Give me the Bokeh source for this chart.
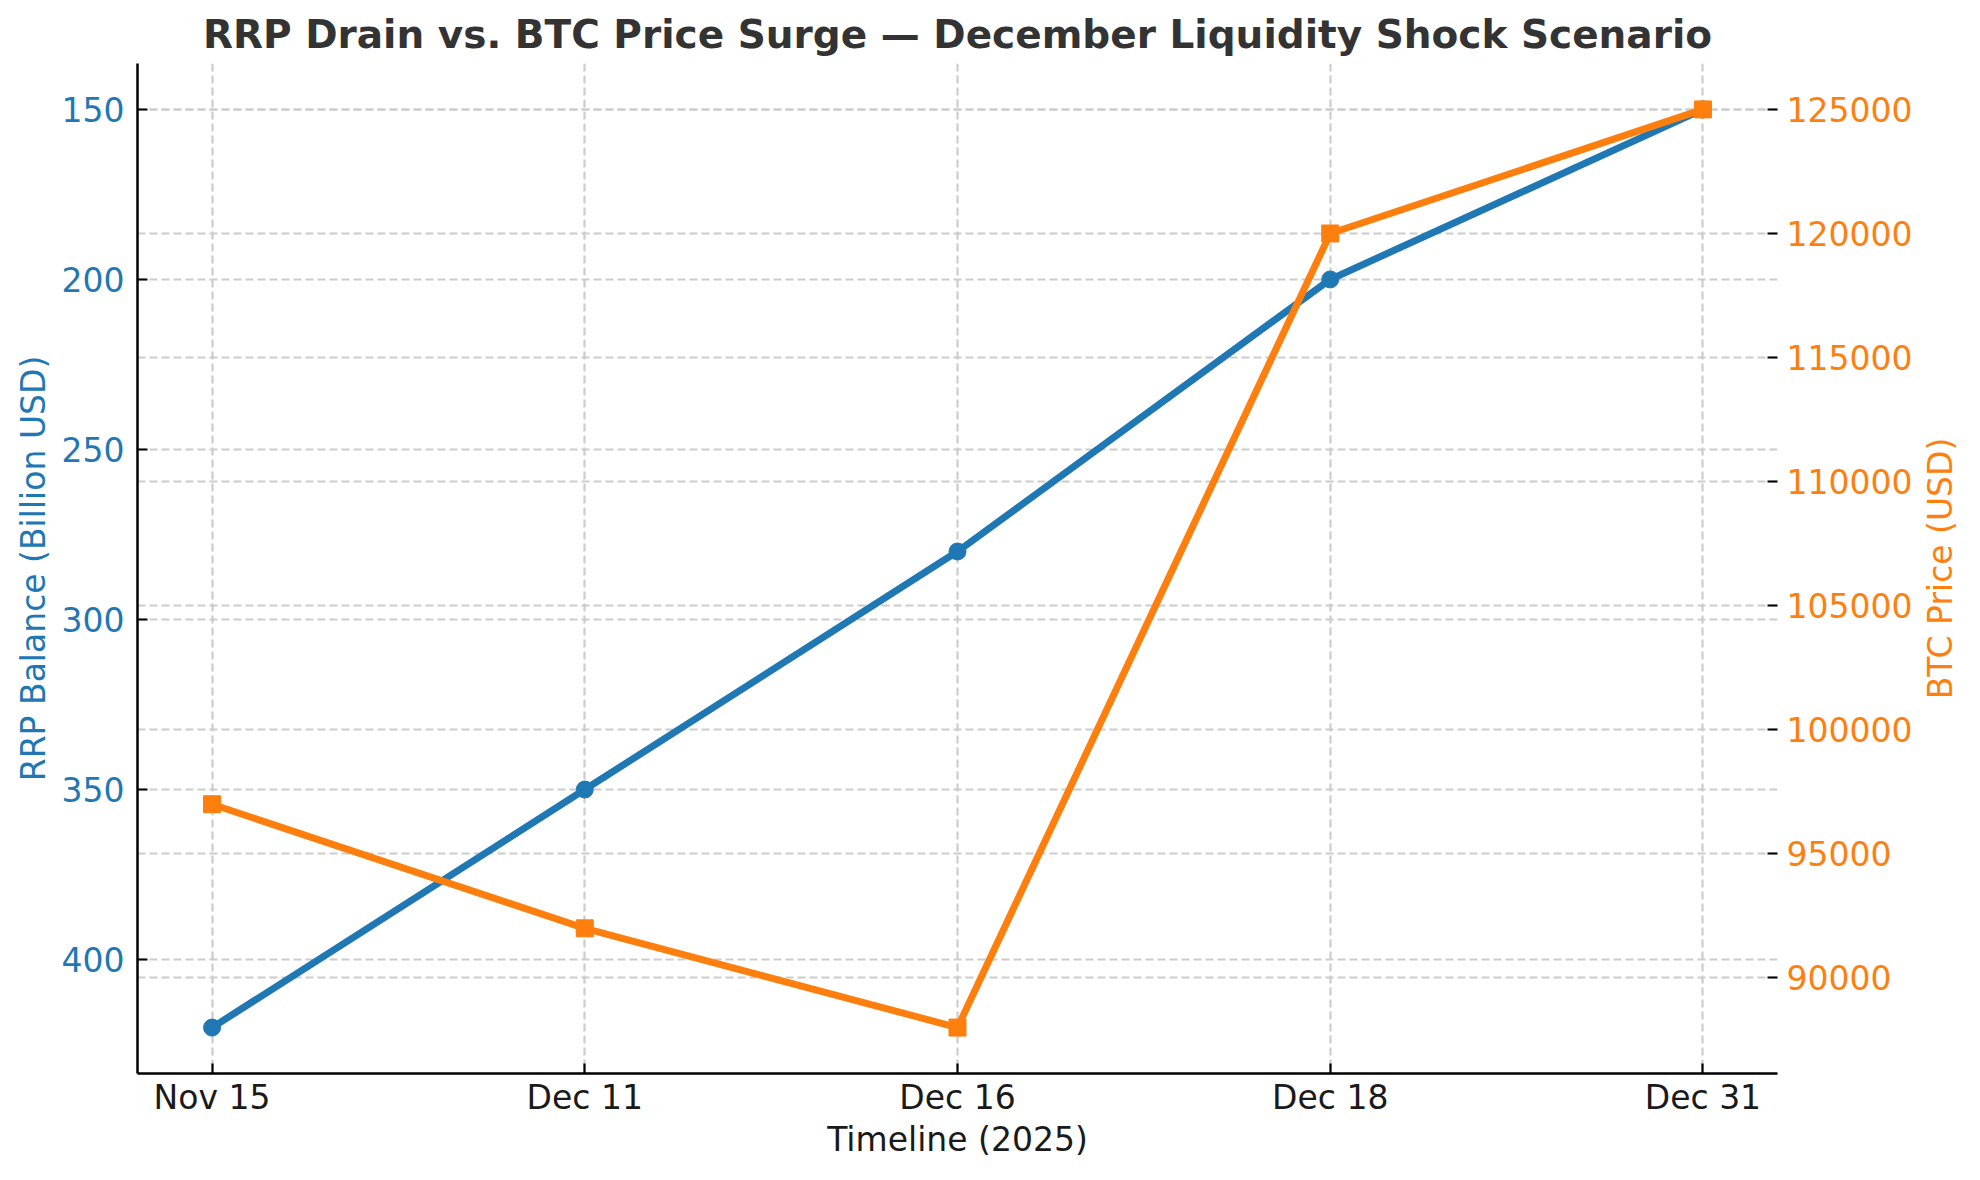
import math
from bokeh.plotting import figure
from bokeh.layouts import row
from bokeh.models import (Range1d, LinearAxis, FixedTicker, Grid, BasicTickFormatter,
                          ColumnDataSource, Label)
from bokeh.embed import file_html
from bokeh.resources import INLINE

# ---- data ----
dates = ["Nov 15", "Dec 11", "Dec 16", "Dec 18", "Dec 31"]
rrp_balance = [420, 350, 280, 200, 150]          # Billion USD
btc_price = [97000, 92000, 88000, 120000, 125000]  # USD
rrp_ticks = [150, 200, 250, 300, 350, 400]
btc_ticks = [90000, 95000, 100000, 105000, 110000, 115000, 120000, 125000]

BLUE = "#1f77b4"
ORANGE = "#ff7f0e"
FONT = "DejaVu Sans"

x_idx = list(range(len(dates)))
src = ColumnDataSource(dict(x=x_idx, rrp=rrp_balance, btc=btc_price))

def padded(vals, frac=0.05):
    lo, hi = min(vals), max(vals)
    m = (hi - lo) * frac
    return lo - m, hi + m

xlo, xhi = padded(x_idx)
rlo, rhi = padded(rrp_balance)
blo, bhi = padded(btc_price)

TOP, BOTTOM = 63, 91

p = figure(width=1915, height=1164,
           x_range=Range1d(xlo, xhi), y_range=Range1d(rhi, rlo),
           output_backend="svg", toolbar_location=None,
           min_border_left=137, min_border_right=137,
           min_border_top=TOP, min_border_bottom=BOTTOM)
p.extra_y_ranges = {"btc": Range1d(blo, bhi)}
p.outline_line_color = None
p.background_fill_color = "white"
p.border_fill_color = "white"

# title
p.title.text = "RRP Drain vs. BTC Price Surge \u2014 December Liquidity Shock Scenario"
p.title.align = "center"
p.title.text_font = FONT
p.title.text_font_size = "39px"
p.title.text_font_style = "bold"
p.title.text_color = "#333333"
p.title.standoff = 13

# grids
for g in (p.xgrid, p.ygrid):
    g.grid_line_color = "#cccccc"
    g.grid_line_width = 2.2
    g.grid_line_dash = "8 4"
p.xgrid.ticker = FixedTicker(ticks=x_idx)
p.ygrid.ticker = FixedTicker(ticks=rrp_ticks)
btc_grid = Grid(dimension=1, ticker=FixedTicker(ticks=btc_ticks), y_range_name="btc",
                grid_line_color="#cccccc", grid_line_width=2.2, grid_line_dash="8 4")
p.add_layout(btc_grid)

# x axis
xa = p.xaxis[0]
xa.ticker = FixedTicker(ticks=x_idx)
xa.major_label_overrides = {i: d for i, d in zip(x_idx, dates)}
xa.axis_label = "Timeline (2025)"

# left axis
ya = p.yaxis[0]
ya.ticker = FixedTicker(ticks=rrp_ticks)
ya.axis_label = "RRP Balance (Billion USD)"
ya.major_label_text_color = BLUE
ya.axis_label_text_color = BLUE

# right axis
ra = LinearAxis(y_range_name="btc", ticker=FixedTicker(ticks=btc_ticks),
                formatter=BasicTickFormatter(use_scientific=False))
ra.major_label_text_color = ORANGE
ra.axis_line_color = None
p.add_layout(ra, "right")

for ax in (xa, ya, ra):
    ax.major_label_text_font = FONT
    ax.major_label_text_font_size = "33px"
    ax.axis_label_text_font = FONT
    ax.axis_label_text_font_size = "33px"
    ax.axis_label_text_font_style = "normal"
    ax.major_tick_in = 10
    ax.major_tick_out = 0
    ax.major_tick_line_width = 2.2
    ax.major_tick_line_color = "black"
    ax.minor_tick_line_color = None
for ax in (xa, ya):
    ax.axis_line_width = 2.5
    ax.axis_line_color = "black"
xa.major_label_text_color = "#1a1a1a"
xa.axis_label_text_color = "#1a1a1a"
xa.major_label_standoff = 4
xa.axis_label_standoff = 0
ya.major_label_standoff = 13
ya.axis_label_standoff = 6
ra.major_label_standoff = 9

# series
p.line("x", "rrp", source=src, line_color=BLUE, line_width=7)
p.scatter("x", "rrp", source=src, marker="circle", size=17, fill_color=BLUE, line_color=BLUE)
p.line("x", "btc", source=src, y_range_name="btc", line_color=ORANGE, line_width=7)
p.scatter("x", "btc", source=src, y_range_name="btc", marker="square", size=17,
          fill_color=ORANGE, line_color=ORANGE)

# right-hand axis title (reads bottom-to-top), in a narrow strip aligned with the frame
side = figure(width=49, height=1164, x_range=Range1d(0, 1), y_range=Range1d(0, 1),
              output_backend="svg", toolbar_location=None,
              min_border_left=0, min_border_right=0,
              min_border_top=TOP, min_border_bottom=BOTTOM)
side.axis.visible = False
side.grid.visible = False
side.outline_line_color = None
side.border_fill_color = "white"
side.background_fill_color = "white"
side.add_layout(Label(x=0.5, y=0.5, text="BTC Price (USD)", angle=math.pi / 2,
                      text_align="center", text_baseline="middle",
                      text_font=FONT, text_font_size="33px", text_color=ORANGE))

layout = row(p, side, spacing=0)
open("out.html", "w").write(file_html(layout, INLINE))
